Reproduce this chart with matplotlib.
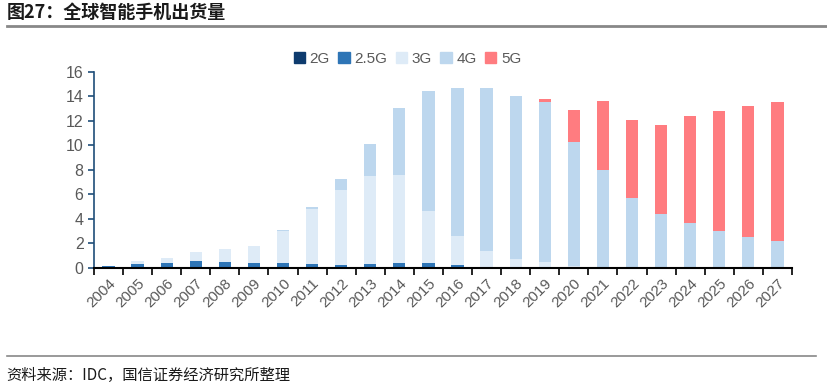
import numpy as np
import matplotlib.pyplot as plt
from matplotlib.patches import Patch

plt.rcParams['font.family'] = ['Noto Sans CJK SC', 'DejaVu Sans']

years = [str(y) for y in range(2004, 2028)]
g2 = [0.02, 0.04, 0.04, 0.04, 0.03, 0.02, 0.02, 0.01, 0.01, 0.01, 0.01, 0.01,
      0, 0, 0, 0, 0, 0, 0, 0, 0, 0, 0, 0]
g25 = [0.15, 0.26, 0.37, 0.5, 0.46, 0.39, 0.39, 0.29, 0.21, 0.34, 0.43, 0.37,
       0.22, 0, 0, 0, 0, 0, 0, 0, 0, 0, 0, 0]
g3 = [0.0, 0.27, 0.41, 0.76, 1.09, 1.36, 2.64, 4.52, 6.13, 7.2, 7.19, 4.25,
      2.42, 1.39, 0.74, 0.49, 0.19, 0.05, 0.02, 0, 0, 0, 0, 0]
g4 = [0, 0, 0, 0, 0, 0, 0.05, 0.14, 0.95, 2.6, 5.45, 9.81,
      12.07, 13.27, 13.29, 13.08, 10.11, 7.99, 5.67, 4.44, 3.68, 3.02, 2.53, 2.21]
g5 = [0, 0, 0, 0, 0, 0, 0, 0, 0, 0, 0, 0,
      0, 0, 0, 0.19, 2.56, 5.58, 6.38, 7.25, 8.69, 9.81, 10.66, 11.33]

series = [("2G", g2, "#0E3B6E"), ("2.5G", g25, "#2E75B6"), ("3G", g3, "#DEEBF7"),
          ("4G", g4, "#BDD7EE"), ("5G", g5, "#FF7C80")]

latin = 'Liberation Sans'

fig = plt.figure(figsize=(8.28, 3.86), dpi=100)
ax = fig.add_axes([0.1135, 0.3057, 0.843, 0.5078])

x = np.arange(len(years))
bottom = np.zeros(len(years))
for name, vals, col in series:
    vals = np.array(vals)
    ax.bar(x, vals, width=0.42, bottom=bottom, color=col, label=name, linewidth=0)
    bottom += vals

ax.set_xlim(-0.5, len(years) - 0.5)
ax.set_ylim(0, 16)
ax.set_yticks(range(0, 17, 2))
ax.set_xticks(x)
ax.set_xticklabels(years, rotation=45, ha='right', rotation_mode='anchor',
                   fontsize=11, color='#595959', family=latin)
ax.tick_params(axis='x', length=0, pad=6)
ax.set_xticks(np.arange(-0.5, len(years)), minor=True)
ax.tick_params(axis='x', which='minor', length=5, width=1.2, color='black')
ax.tick_params(axis='y', length=4, width=1.2, color='#1F4E79', labelsize=11.5,
               labelcolor='#595959')
for t in ax.get_yticklabels():
    t.set_family(latin)

for s in ['top', 'right']:
    ax.spines[s].set_visible(False)
ax.spines['left'].set_color('#1F4E79')
ax.spines['left'].set_linewidth(1.2)
ax.spines['bottom'].set_color('black')
ax.spines['bottom'].set_linewidth(1.5)

# legend above the plot
handles = [Patch(color=c, label=n) for n, v, c in series]
leg = fig.legend(handles=handles, loc='center', bbox_to_anchor=(0.492, 0.847), ncol=5,
                 frameon=False, handlelength=0.75, handleheight=0.75,
                 handletextpad=0.3, columnspacing=0.55,
                 prop={'family': latin, 'size': 11})
for t in leg.get_texts():
    t.set_color('#595959')

fig.text(0.008, 0.968, "图27：全球智能手机出货量", fontsize=13, fontweight='bold',
         va='center', ha='left', color='#1a1a1a')
fig.add_artist(plt.Line2D([0.008, 1.0], [0.932, 0.932], color='#888888', lw=2))
fig.add_artist(plt.Line2D([0.008, 0.985], [0.077, 0.077], color='#888888', lw=1.2))
fig.text(0.008, 0.028, "资料来源：IDC，国信证券经济研究所整理", fontsize=11,
         va='center', ha='left', color='#1a1a1a')

fig.savefig('out.png', dpi=100)
